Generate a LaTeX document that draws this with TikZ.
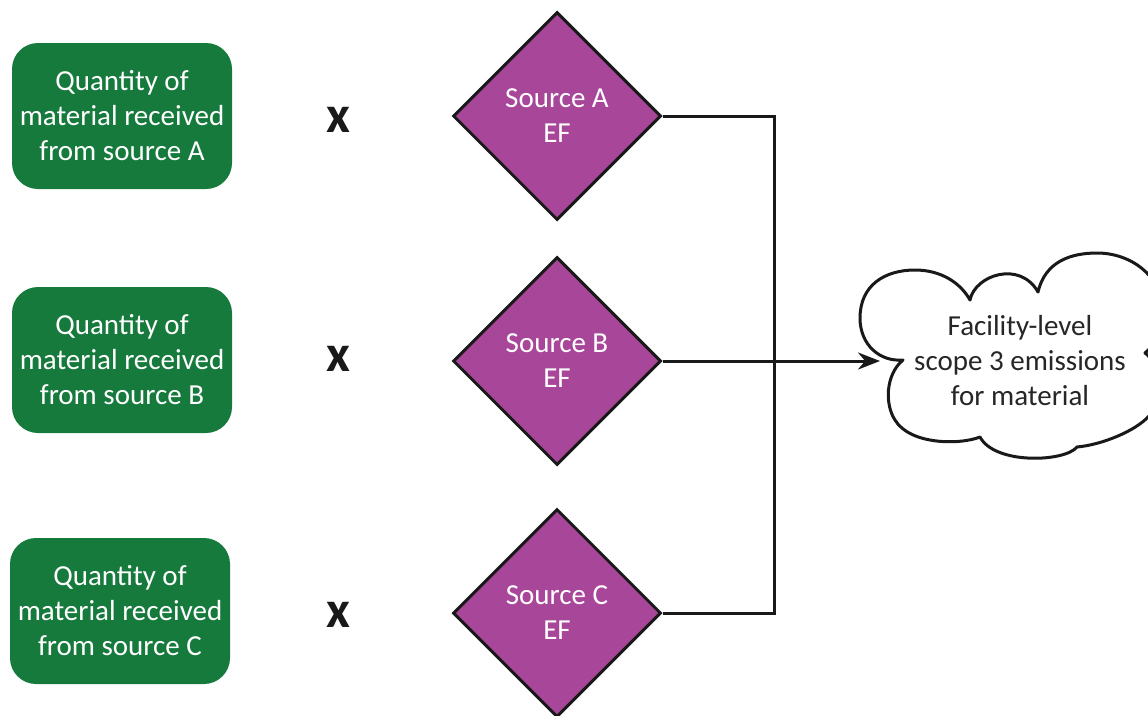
\documentclass[tikz,border=0pt]{standalone}
\usepackage{fontspec}
\setmainfont{Carlito}
\usetikzlibrary{shapes.geometric,arrows.meta}
\definecolor{boxgreen}{HTML}{177A3D}
\definecolor{efpurple}{HTML}{A8469A}
\begin{document}
\begin{tikzpicture}[x=1pt,y=-1pt,
  qbox/.style={fill=boxgreen, rounded corners=26pt, minimum width=220pt, minimum height=146pt,
    text=white, align=center, font=\fontsize{29}{35}\selectfont, inner sep=0pt},
  efbox/.style={diamond, draw=black!90, line width=3pt, fill=efpurple, minimum width=208pt,
    minimum height=208pt, text=white, align=center, font=\fontsize{29}{35}\selectfont, inner sep=0pt},
  times/.style={font=\fontsize{52}{52}\selectfont\bfseries, text=black!90, inner sep=0pt},
  cloudline/.style={draw=black!90, line width=3pt, fill=white, line join=round},
  cloudtext/.style={align=center, font=\fontsize{29}{35}\selectfont, text=black!85, inner sep=0pt},
  link/.style={draw=black!90, line width=3pt},
  arr/.style={link, -{Stealth[length=22pt,width=17pt]}}]
\useasboundingbox (0,0) rectangle (1148,715);
\node[qbox] (qA) at (122,116) {Quantity of\\material received\\from source A};
\node[qbox] (qB) at (122,360) {Quantity of\\material received\\from source B};
\node[qbox] (qC) at (120,611) {Quantity of\\material received\\from source C};
\node[times] (xA) at (338,120) {x};
\node[times] (xB) at (338,359) {x};
\node[times] (xC) at (338,615) {x};
\node[efbox] (dA) at (557,116) {Source A\\EF};
\node[efbox] (dB) at (557,361) {Source B\\EF};
\node[efbox] (dC) at (557,613) {Source C\\EF};
% cloud outline
\path[cloudline] (903,360)
  .. controls (880,362) and (860,345) .. (860,318)
  .. controls (860,285) and (885,270) .. (915,270)
  .. controls (940,270) and (960,282) .. (970,300)
  .. controls (975,275) and (1020,260) .. (1038,292)
  .. controls (1045,262) and (1070,253) .. (1097,253)
  .. controls (1130,253) and (1162,275) .. (1162,310)
  .. controls (1162,330) and (1155,345) .. (1145,353)
  .. controls (1158,362) and (1168,395) .. (1150,415)
  .. controls (1135,432) and (1100,445) .. (1077,447)
  .. controls (1065,462) and (995,465) .. (980,437)
  .. controls (960,445) and (910,445) .. (895,420)
  .. controls (885,405) and (885,375) .. (903,360) -- cycle;
\node[cloudtext] (cl) at (1020,361) {Facility-level\\scope 3 emissions\\for material};
\coordinate (j) at (774,361);
\coordinate (cltip) at (880,361);
\draw[link] (dA.east) -| (j) |- (dC.east);
\draw[arr] (dB.east) -- (cltip);
\end{tikzpicture}
\end{document}
